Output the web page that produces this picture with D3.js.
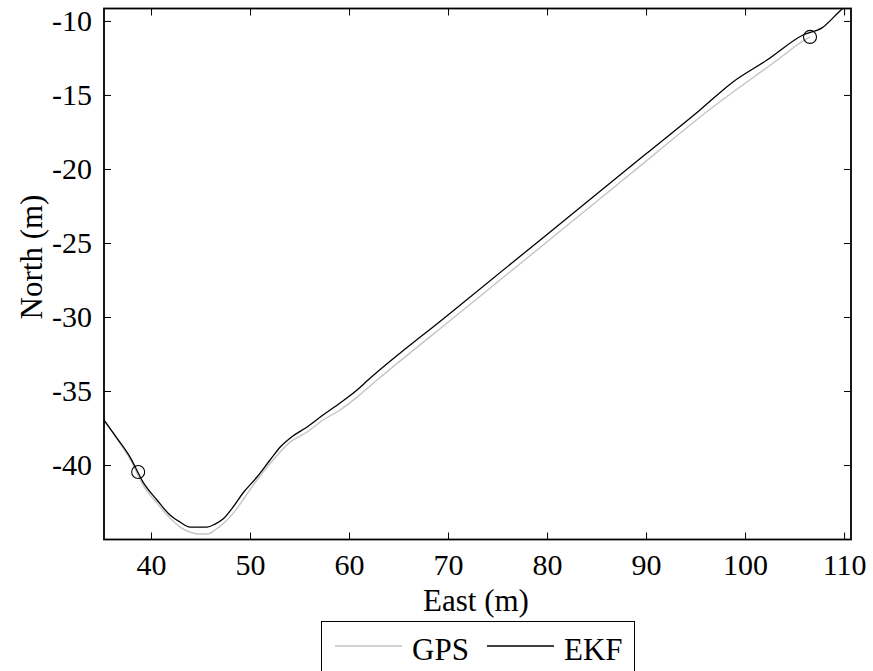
<!DOCTYPE html>
<html>
<head>
<meta charset="utf-8">
<script src="https://cdn.jsdelivr.net/npm/d3@7/dist/d3.min.js"></script>
<style>
  body { margin: 0; background: #fff; }
  text { font-family: "Liberation Serif", "Times New Roman", serif; fill: #000; }
</style>
</head>
<body>
<div id="graph"></div>
<script>
/*******************************************************************************
* Data (East, North in metres)
*******************************************************************************/
var gpsEast  = [34.44, 36.56, 37.88, 39.19, 40.60, 41.92, 42.93, 43.94, 44.74, 45.76, 46.46, 47.47, 48.48, 49.49, 50.70, 52.32, 54.04, 55.76, 57.37, 59.09, 60.81, 62.83, 70.81, 80.81, 90.81, 96.26, 103.53, 105.55, 106.56];
var gpsNorth = [-36.22, -38.24, -39.59, -41.35, -42.57, -43.58, -44.19, -44.53, -44.66, -44.66, -44.39, -43.85, -43.11, -42.16, -41.01, -39.66, -38.45, -37.77, -36.96, -36.28, -35.41, -34.26, -29.92, -24.48, -19.03, -16.07, -12.50, -11.49, -11.08];

var ekfEast  = [34.44, 36.56, 37.88, 39.19, 40.60, 41.92, 42.93, 43.94, 45.65, 46.46, 47.27, 48.28, 49.29, 50.70, 52.02, 53.10, 54.20, 55.76, 57.37, 59.09, 60.81, 61.92, 70.00, 80.00, 90.00, 95.45, 98.78, 102.22, 105.86, 107.77, 109.80, 110.81];
var ekfNorth = [-36.22, -38.18, -39.46, -41.15, -42.36, -43.38, -43.85, -44.19, -44.19, -43.99, -43.65, -42.84, -41.89, -40.81, -39.66, -38.75, -38.10, -37.43, -36.62, -35.81, -34.93, -34.26, -29.86, -24.42, -18.98, -16.01, -14.12, -12.64, -10.95, -10.47, -9.19, -8.65];

var markerEast  = [38.7, 106.56];
var markerNorth = [-40.47, -11.08];

var xTicks = [40, 50, 60, 70, 80, 90, 100, 110];
var yTicks = [-10, -15, -20, -25, -30, -35, -40];
var seriesNames = ['GPS', 'EKF'];
var seriesColors = ['#c4c4c4', '#000000'];

/*******************************************************************************
* Svg Container
*******************************************************************************/
var fullWidth = 873, fullHeight = 671;
var plotLeft = 104, plotTop = 8.5, plotRight = 851, plotBottom = 539.5;

var svg = d3.select("#graph").append("svg")
  .attr("width", fullWidth)
  .attr("height", fullHeight);

var x = d3.scaleLinear().domain([35.25, 110.7]).range([plotLeft, plotRight]);
var y = d3.scaleLinear().domain([-45.03, -9.16]).range([plotBottom, plotTop]);

svg.append("defs").append("clipPath").attr("id", "plotClip")
  .append("rect")
  .attr("x", plotLeft).attr("y", plotTop)
  .attr("width", plotRight - plotLeft).attr("height", plotBottom - plotTop);

/*******************************************************************************
* Lines
*******************************************************************************/
var line = d3.line()
  .curve(d3.curveMonotoneX)
  .x(function(d) { return x(d[0]); })
  .y(function(d) { return y(d[1]); });

var gps = d3.zip(gpsEast, gpsNorth);
var ekf = d3.zip(ekfEast, ekfNorth);

var plot = svg.append("g").attr("clip-path", "url(#plotClip)");

plot.append("path")
  .datum(gps)
  .attr("d", line)
  .attr("fill", "none")
  .attr("stroke", seriesColors[0])
  .attr("stroke-width", 1.4);

plot.append("path")
  .datum(ekf)
  .attr("d", line)
  .attr("fill", "none")
  .attr("stroke", seriesColors[1])
  .attr("stroke-width", 1.3);

plot.selectAll("circle.marker")
  .data(d3.zip(markerEast, markerNorth))
  .enter()
  .append("circle")
  .attr("class", "marker")
  .attr("cx", function(d) { return x(d[0]); })
  .attr("cy", function(d) { return y(d[1]); })
  .attr("r", 6.5)
  .attr("fill", "none")
  .attr("stroke", "#000")
  .attr("stroke-width", 1.1);

/*******************************************************************************
* Axes (matlab style box, ticks inward)
*******************************************************************************/
var tickLen = 7;

var xAxisBottom = d3.axisBottom(x).tickValues(xTicks).tickSizeInner(-tickLen).tickSizeOuter(0).tickPadding(14);
var xAxisTop = d3.axisTop(x).tickValues(xTicks).tickSizeInner(-tickLen).tickSizeOuter(0).tickFormat("");
var yAxisLeft = d3.axisLeft(y).tickValues(yTicks).tickSizeInner(-tickLen).tickSizeOuter(0).tickPadding(12)
  .tickFormat(function(d) { return "-" + Math.abs(d); });
var yAxisRight = d3.axisRight(y).tickValues(yTicks).tickSizeInner(-tickLen).tickSizeOuter(0).tickFormat("");

function styleAxis(g) {
  g.select(".domain").remove();
  g.selectAll(".tick line").attr("stroke", "#000").attr("stroke-width", 1);
  g.selectAll(".tick text")
    .style("font-family", '"Liberation Serif", "Times New Roman", serif')
    .style("font-size", "30px")
    .attr("fill", "#000");
}

svg.append("g").attr("transform", "translate(0," + plotBottom + ")").call(xAxisBottom).call(styleAxis);
svg.append("g").attr("transform", "translate(0," + plotTop + ")").call(xAxisTop).call(styleAxis);
svg.append("g").attr("transform", "translate(" + plotLeft + ",0)").call(yAxisLeft).call(styleAxis);
svg.append("g").attr("transform", "translate(" + plotRight + ",0)").call(yAxisRight).call(styleAxis);

svg.append("rect")
  .attr("x", plotLeft).attr("y", plotTop)
  .attr("width", plotRight - plotLeft).attr("height", plotBottom - plotTop)
  .attr("fill", "none")
  .attr("stroke", "#000")
  .attr("stroke-width", 1.8);

/*******************************************************************************
* Axis titles
*******************************************************************************/
svg.append("text")
  .attr("x", 476).attr("y", 611)
  .attr("text-anchor", "middle")
  .style("font-size", "31px")
  .text("East (m)");

svg.append("text")
  .attr("transform", "translate(42,257) rotate(-90)")
  .attr("text-anchor", "middle")
  .style("font-size", "31px")
  .text("North (m)");

/*******************************************************************************
* Legend
*******************************************************************************/
var legend = svg.append("g");
legend.append("rect")
  .attr("x", 321.5).attr("y", 621.5)
  .attr("width", 313).attr("height", 60)
  .attr("fill", "#fff")
  .attr("stroke", "#000")
  .attr("stroke-width", 1);

var legendItems = legend.selectAll("g.item")
  .data(seriesNames)
  .enter()
  .append("g")
  .attr("class", "item")
  .attr("transform", function(d, i) { return "translate(" + (335 + i * 152) + ",0)"; });

legendItems.append("line")
  .attr("x1", 0).attr("x2", 67)
  .attr("y1", 646).attr("y2", 646)
  .attr("stroke", function(d, i) { return seriesColors[i]; })
  .attr("stroke-width", 1.3);

legendItems.append("text")
  .attr("x", 77).attr("y", 660)
  .style("font-size", "31px")
  .text(function(d) { return d; });
</script>
</body>
</html>
